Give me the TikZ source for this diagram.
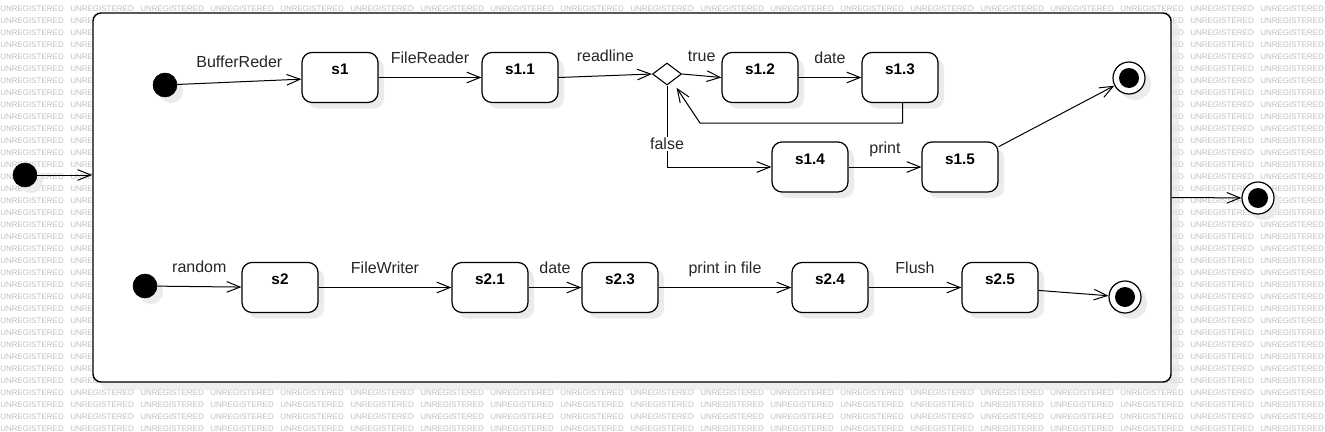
\documentclass[tikz,border=0pt]{standalone}
\usepackage{fontspec}
\setmainfont{Liberation Sans}
\usetikzlibrary{arrows.meta,shapes.geometric,shadows}

\begin{document}
\begin{tikzpicture}[x=0.75pt,y=-0.75pt,
	every node/.append style={inner sep=0pt},
	wmark/.style={anchor=west,text=black!25,font=\fontsize{6}{6}\selectfont},
	dropsh/.style={drop shadow={shadow xshift=4.5pt,shadow yshift=-4.5pt,fill=black!8,opacity=1}},
	framebox/.style={draw,line width=1.1pt,rounded corners=6pt,fill=white,minimum width=808.5pt,minimum height=276.75pt,
		drop shadow={shadow xshift=6pt,shadow yshift=-6pt,fill=black!10,opacity=0.6}},
	state/.style={draw,line width=0.9pt,rounded corners=7.5pt,fill=white,dropsh,minimum width=57pt,minimum height=37.5pt,
		font=\fontsize{11.5}{13}\selectfont\bfseries,text height=7pt,text depth=11.5pt},
	init/.style={circle,draw,fill=black,minimum size=18pt,dropsh},
	final/.style={circle,draw,line width=0.9pt,fill=white,minimum size=24pt,dropsh,
		path picture={\fill[black] (path picture bounding box.center) circle (7.5pt);}},
	choice/.style={diamond,draw,line width=0.8pt,fill=white,aspect=1.32,minimum width=21.75pt,minimum height=16.5pt},
	lbl/.style={above=10pt,text depth=0pt,font=\fontsize{12}{14}\selectfont,text=black!85},
	lblw/.style={fill=white,inner sep=1pt,font=\fontsize{12}{14}\selectfont,text=black!85},
	trans/.style={draw,line width=0.75pt,-{Straight Barb[length=10pt,width=8pt]}}]
	\useasboundingbox (0,0) rectangle (1325,432);
	\foreach \i in {0,...,18}
		\foreach \j in {0,...,35}
			\node[wmark] (wm-\i-\j) at (70*\i,8.7+12*\j) {UNREGISTERED};
	\node[framebox] (comp) at (632,197.5) {};
	\node[init] (i0) at (25,175) {};
	\node[final] (fin0) at (1258,198) {};
	\node[init] (i1) at (165,85) {};
	\node[state] (s1) at (340,77.5) {s1};
	\node[state] (s11) at (520,77.5) {s1.1};
	\node[choice] (dia) at (667,74) {};
	\node[state] (s12) at (760,77.5) {s1.2};
	\node[state] (s13) at (900,77.5) {s1.3};
	\node[state] (s14) at (810,167) {s1.4};
	\node[state] (s15) at (960,167) {s1.5};
	\node[final] (fin1) at (1129,78) {};
	\node[init] (i2) at (145,286) {};
	\node[state] (s2) at (280,287.5) {s2};
	\node[state] (s21) at (490,287.5) {s2.1};
	\node[state] (s23) at (620,287.5) {s2.3};
	\node[state] (s24) at (830,287.5) {s2.4};
	\node[state] (s25) at (1000,287.5) {s2.5};
	\node[final] (fin2) at (1125,297) {};
	\coordinate (back) at (700,123);
	\coordinate (tip) at ([xshift=1.5pt,yshift=-6pt]dia.south east);
	\draw[trans] (i0) -- (i0 -| comp.west);
	\draw[trans] (comp.east) -- (fin0);
	\draw[trans] (i1) -- node[lbl] {BufferReder} (s1);
	\draw[trans] (s1) -- node[lbl] {FileReader} (s11);
	\draw[trans] (s11.east) -- node[lbl] {readline} (dia.west);
	\draw[trans] (dia.east) -- node[lbl] {true} (s12.west);
	\draw[trans] (s12) -- node[lbl] {date} (s13);
	\draw[trans] ([xshift=2pt]s13.south) |- (back) -- (tip);
	\draw[trans] (dia.south) |- node[lblw,pos=0.36] {false} (s14.west);
	\draw[trans] (s14) -- node[lbl] {print} (s15);
	\draw[trans] (s15) -- (fin1);
	\draw[trans] (i2) -- node[lbl] {random} (s2);
	\draw[trans] (s2) -- node[lbl] {FileWriter} (s21);
	\draw[trans] (s21) -- node[lbl] {date} (s23);
	\draw[trans] (s23) -- node[lbl] {print in file} (s24);
	\draw[trans] (s24) -- node[lbl] {Flush} (s25);
	\draw[trans] (s25) -- (fin2);
\end{tikzpicture}
\end{document}
